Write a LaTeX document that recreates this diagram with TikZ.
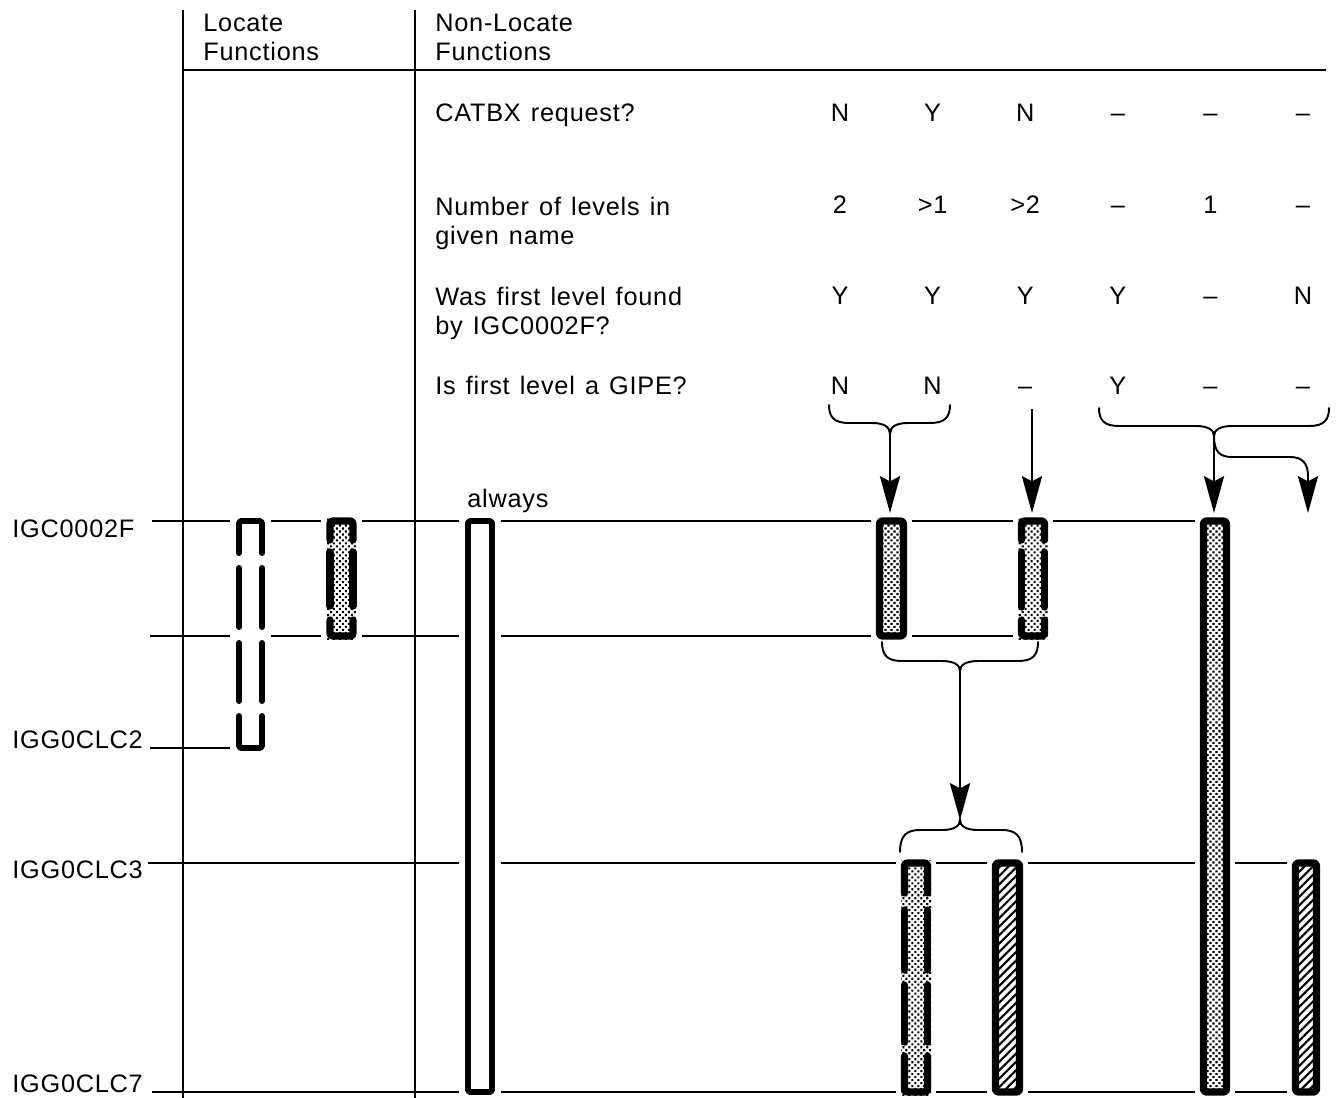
\documentclass[tikz,border=0pt]{standalone}
\usepackage{fontspec}
\setmainfont{Liberation Sans}[LetterSpace=3.0,WordSpace=1.3]
\usetikzlibrary{arrows.meta,patterns.meta}
\tikzset{
  grid/.style={line width=1.1pt, draw=black},
  halo/.style={fill=white},
  barline/.style={line width=4.1pt, draw=black, line cap=round, line join=round, rounded corners=1.5pt},
  openline/.style={barline, line width=3.4pt},
  dotfill/.style={pattern={Dots[radius=0.85pt,distance=2.4pt,angle=45]}, pattern color=black},
  hatchfill/.style={pattern={Lines[angle=45,distance=3.4pt,line width=1.2pt]}},
  flow/.style={line width=1.1pt, -{Stealth[length=21pt,width=11.5pt,inset=3pt]}},
  bracket/.style={line width=1.1pt, line cap=round},
  lbl/.style={anchor=base west, inner sep=0pt, align=left},
  ans/.style={anchor=base, inner sep=0pt},
}

\begin{document}
\begin{tikzpicture}[x=0.02cm, y=-0.02cm, font=\fontsize{14.4pt}{17pt}\selectfont]
\useasboundingbox (0,0) rectangle (1336,1098);
% frame
\draw[grid] (183,10) -- (183,1098);
\draw[grid] (415,10) -- (415,1098);
\draw[grid] (183,70) -- (1326,70);
% module levels
\draw[grid] (152,521) -- (1210,521);
\draw[grid] (150,636) -- (1030,636);
\draw[grid] (150,748) -- (250,748);
\draw[grid] (148,863) -- (1305,863);
\draw[grid] (152,1092) -- (1305,1092);
% locate bars
\fill[halo] (230,512) rectangle (271,757);
\draw[openline] (239,553) -- (239,521) -- (262,521) -- (262,553);
\draw[openline] (239,716) -- (239,748) -- (262,748) -- (262,716);
\foreach \ya/\yb in {568/627,643/701} {
  \draw[openline] (239,\ya) -- (239,\yb);
  \draw[openline] (262,\ya) -- (262,\yb);
}
\fill[halo] (321,512) rectangle (362,645);
\fill[dotfill] (327,518) rectangle (356,639);
\draw[barline] (330,540) -- (330,521) -- (353,521) -- (353,540);
\draw[barline] (330,620) -- (330,636) -- (353,636) -- (353,620);
\draw[barline] (330,552) -- (330,606);
\draw[barline] (353,552) -- (353,606);
% non-locate bars
\fill[halo] (459,512) rectangle (501,1101);
\draw[openline] (468,521) rectangle (492,1092);
\fill[halo] (871,512) rectangle (912,645);
\draw[barline, dotfill] (879.5,521) rectangle (903.5,636);
\fill[halo] (1013,512) rectangle (1053,645);
\fill[dotfill] (1018,518) rectangle (1048,639);
\draw[barline] (1021.5,540) -- (1021.5,521) -- (1044.5,521) -- (1044.5,540);
\draw[barline] (1021.5,620) -- (1021.5,636) -- (1044.5,636) -- (1044.5,620);
\draw[barline] (1021.5,552) -- (1021.5,607);
\draw[barline] (1044.5,552) -- (1044.5,607);
\fill[halo] (1195,512) rectangle (1235,1101);
\draw[barline, dotfill] (1203.5,521) rectangle (1226.5,1092);
\fill[halo] (896,854) rectangle (936,1101);
\fill[dotfill] (901,860) rectangle (931,1095);
\draw[barline] (904.5,893) -- (904.5,863) -- (927.5,863) -- (927.5,893);
\draw[barline] (904.5,1056) -- (904.5,1092) -- (927.5,1092) -- (927.5,1056);
\foreach \ya/\yb in {910/970,985/1042} {
  \draw[barline] (904.5,\ya) -- (904.5,\yb);
  \draw[barline] (927.5,\ya) -- (927.5,\yb);
}
\fill[halo] (987,854) rectangle (1028,1101);
\draw[barline, hatchfill] (995.5,863) rectangle (1019.5,1092);
\fill[halo] (1287,854) rectangle (1325,1101);
\draw[barline, hatchfill] (1295.5,863) rectangle (1316.5,1092);
% braces
\draw[bracket] (829,405) .. controls (829,418) and (835,423) .. (849,423) -- (872,423) .. controls (884,423) and (890,427) .. (890,434) .. controls (890,427) and (896,423) .. (908,423) -- (930,423) .. controls (944,423) and (950,418) .. (950,405);
\draw[bracket] (1099,408) .. controls (1099,421) and (1105,426) .. (1119,426) -- (1196,426) .. controls (1208,426) and (1214,430) .. (1214,436) .. controls (1214,430) and (1220,426) .. (1232,426) -- (1309,426) .. controls (1323,426) and (1329,421) .. (1329,408);
\draw[bracket] (882,642) .. controls (882,656) and (888,661) .. (902,661) -- (942,661) .. controls (954,661) and (960,665) .. (960,671) .. controls (960,665) and (966,661) .. (978,661) -- (1018,661) .. controls (1032,661) and (1038,656) .. (1038,642);
\draw[bracket] (900,852) .. controls (900,836) and (906,830) .. (920,830) -- (942,830) .. controls (954,830) and (960,826) .. (960,820) .. controls (960,826) and (966,830) .. (978,830) -- (1002,830) .. controls (1016,830) and (1022,836) .. (1022,852);
% arrows
\coordinate (nn) at (890,434);
\coordinate (dd) at (1032,409);
\coordinate (yy) at (1214,436);
\coordinate (mm) at (960,671);
\coordinate (jj) at (960,820);
\coordinate (t4) at (890,513);
\coordinate (t5) at (1032,513);
\coordinate (t6) at (1214,513);
\coordinate (t9) at (1308,513);
\draw[flow] (nn) -- (t4);
\draw[flow] (dd) -- (t5);
\draw[flow] (yy) -- (t6);
\draw[flow] (yy) .. controls (1214,452) and (1220,457) .. (1232,457) -- (1290,457) .. controls (1302,457) and (1308,463) .. (1308,476) -- (t9);
\draw[flow] (mm) -- (jj);
% texts
\node[lbl] (hloc) at (203,61) {Locate\\Functions};
\node[lbl] (hnon) at (435,61) {Non-Locate\\Functions};
\node[lbl] (q1) at (435,122) {CATBX request?};
\node[lbl] (q2) at (435,245) {Number of levels in\\given name};
\node[lbl] (q3) at (435,335) {Was first level found\\by IGC0002F?};
\node[lbl] (q4) at (435,395) {Is first level a GIPE?};
\foreach \y/\row [count=\j] in {122/{N,Y,N,–,–,–},214/{2,>1,>2,–,1,–},305/{Y,Y,Y,Y,–,N},395/{N,N,–,Y,–,–}} {
  \foreach \a [count=\i] in \row
    \node[ans] (a\j-\i) at ({747.4+92.6*\i},\y) {\a};
}
\node[lbl] (alw) at (467,507) {always};
\node[lbl] (m1) at (12,537) {IGC0002F};
\node[lbl] (m2) at (12,748) {IGG0CLC2};
\node[lbl] (m3) at (12,878) {IGG0CLC3};
\node[lbl] (m4) at (12,1092) {IGG0CLC7};
\end{tikzpicture}
\end{document}
